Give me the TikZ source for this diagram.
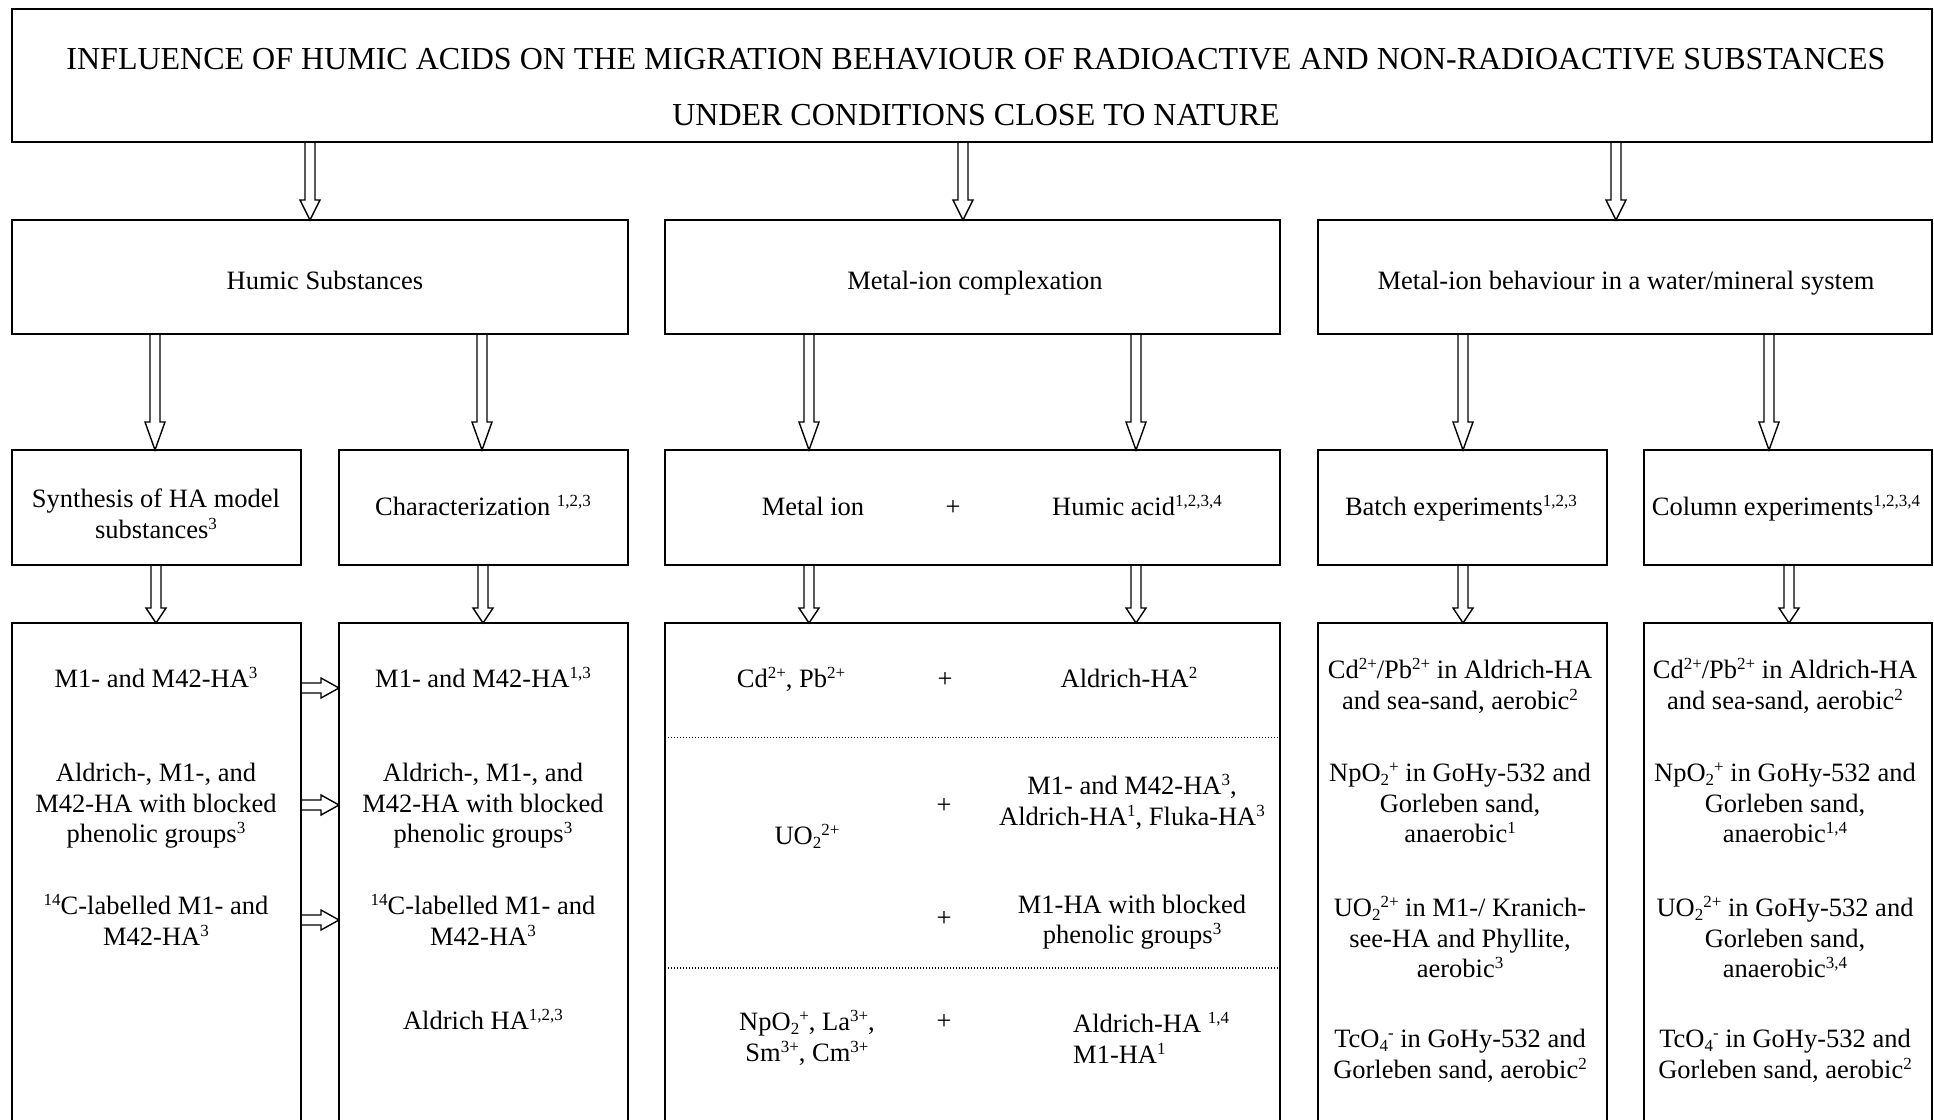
\documentclass[tikz,border=0pt]{standalone}
\usepackage{fontspec}
\setmainfont{Liberation Serif}
\usetikzlibrary{calc}
\newcommand\bfnt{\fontsize{26.5}{30.5}\selectfont}
\newcommand\tfnt{\fontsize{32}{56}\selectfont}
\newcommand\sps[1]{\raisebox{9pt}{\fontsize{17}{17}\selectfont #1}}
\newcommand\sbs[1]{\raisebox{-4pt}{\fontsize{17}{17}\selectfont #1}}
\newcommand\fatdn[3]{\draw[arrline] let \p1=(#1), \p2=(#2) in
  (\x1-5pt,\y1) -- (\x1-5pt,\y2+#3) -- (\x1-10pt,\y2+#3) -- (\x1,\y2)
  -- (\x1+10pt,\y2+#3) -- (\x1+5pt,\y2+#3) -- (\x1+5pt,\y1);}
\newcommand\fatrt[3]{\draw[arrline] let \p1=(#1), \p2=(#2) in
  (\x1,\y1+5pt) -- (\x2-#3,\y1+5pt) -- (\x2-#3,\y1+10pt) -- (\x2,\y1)
  -- (\x2-#3,\y1-10pt) -- (\x2-#3,\y1-5pt) -- (\x1,\y1-5pt);}
\begin{document}
\begin{tikzpicture}[x=1pt,y=-1pt,
  box/.style={draw,line width=1.8pt,inner sep=0pt,outer sep=0pt,anchor=north west},
  txt/.style={inner sep=0pt,align=center,font=\bfnt},
  one/.style={txt,anchor=base},
  arrline/.style={line width=1.4pt,line join=miter},
  sep/.style={line width=1.2pt,dash pattern=on 1.2pt off 1.8pt}]
\useasboundingbox (0,0) rectangle (1934,1119);
\clip (0,0) rectangle (1934,1119);

% boxes
\node[box,minimum width=1920,minimum height=133] (title) at (12,9) {};
\node[box,minimum width=616,minimum height=114] (hs) at (12,220) {};
\node[box,minimum width=615,minimum height=114] (mc) at (665,220) {};
\node[box,minimum width=614,minimum height=114] (mb) at (1318,220) {};

\node[box,minimum width=289,minimum height=115] (syn) at (12,450) {};
\node[box,minimum width=289,minimum height=115] (chr) at (339,450) {};
\node[box,minimum width=615,minimum height=115] (mih) at (665,450) {};
\node[box,minimum width=289,minimum height=115] (bat) at (1318,450) {};
\node[box,minimum width=288,minimum height=115] (col) at (1644,450) {};

\node[box,minimum width=289,minimum height=530] (syn4) at (12,623) {};
\node[box,minimum width=289,minimum height=530] (chr4) at (339,623) {};
\node[box,minimum width=615,minimum height=530] (mid4) at (665,623) {};
\node[box,minimum width=289,minimum height=530] (bat4) at (1318,623) {};
\node[box,minimum width=288,minimum height=530] (col4) at (1644,623) {};

% arrow x positions
\coordinate (a1) at (310,0);
\coordinate (a2) at (963,0);
\coordinate (a3) at (1616,0);
\coordinate (b1) at (155,0);
\coordinate (b2) at (482,0);
\coordinate (b3) at (809,0);
\coordinate (b4) at (1136,0);
\coordinate (b5) at (1463,0);
\coordinate (b6) at (1769,0);
\coordinate (c1) at (156,0);
\coordinate (c2) at (483,0);
\coordinate (c6) at (1789,0);
\coordinate (h1) at (0,688);
\coordinate (h2) at (0,805);
\coordinate (h3) at (0,920);
\coordinate (d1) at (0,737.5);
\coordinate (d2) at (0,968);

\fatdn{title.south -| a1}{hs.north -| a1}{20pt}
\fatdn{title.south -| a2}{mc.north -| a2}{20pt}
\fatdn{title.south -| a3}{mb.north -| a3}{20pt}

\fatdn{hs.south -| b1}{syn.north -| b1}{28pt}
\fatdn{hs.south -| b2}{chr.north -| b2}{28pt}
\fatdn{mc.south -| b3}{mih.north -| b3}{28pt}
\fatdn{mc.south -| b4}{mih.north -| b4}{28pt}
\fatdn{mb.south -| b5}{bat.north -| b5}{28pt}
\fatdn{mb.south -| b6}{col.north -| b6}{28pt}

\fatdn{syn.south -| c1}{syn4.north -| c1}{15pt}
\fatdn{chr.south -| c2}{chr4.north -| c2}{15pt}
\fatdn{mih.south -| b3}{mid4.north -| b3}{15pt}
\fatdn{mih.south -| b4}{mid4.north -| b4}{15pt}
\fatdn{bat.south -| b5}{bat4.north -| b5}{15pt}
\fatdn{col.south -| c6}{col4.north -| c6}{15pt}

\fatrt{syn4.east |- h1}{chr4.west |- h1}{18pt}
\fatrt{syn4.east |- h2}{chr4.west |- h2}{18pt}
\fatrt{syn4.east |- h3}{chr4.west |- h3}{18pt}

\draw[sep] (mid4.west |- d1) -- (mid4.east |- d1);
\draw[sep] (mid4.west |- d2) -- (mid4.east |- d2);

% texts
\node[txt,font=\tfnt] (ttl) at (976,87) {INFLUENCE OF HUMIC ACIDS ON THE MIGRATION BEHAVIOUR OF RADIOACTIVE AND NON-RADIOACTIVE SUBSTANCES\\UNDER CONDITIONS CLOSE TO NATURE};

\node[one] (ths) at (325,289) {Humic Substances};
\node[one] (tmc) at (975,289) {Metal-ion complexation};
\node[one] (tmb) at (1626,289) {Metal-ion behaviour in a water/mineral system};

\node[txt] (tsyn) at (156,514) {Synthesis of HA model\\substances\sps{3}};
\node[one] (tchr) at (483,515) {Characterization \sps{1,2,3}};
\node[one] (tmi) at (813,515) {Metal ion};
\node[one] (tpl) at (953,515) {+};
\node[one] (tha) at (1137,515) {Humic acid\sps{1,2,3,4}};
\node[one] (tbat) at (1461,515) {Batch experiments\sps{1,2,3}};
\node[one] (tcol) at (1786,515) {Column experiments\sps{1,2,3,4}};

% synthesis column
\node[one] (s1) at (156,687) {M1- and M42-HA\sps{3}};
\node[txt] (s2) at (156,806) {Aldrich-, M1-, and\\M42-HA with blocked\\phenolic groups\sps{3}};
\node[txt] (s3) at (156,920) {\sps{14}C-labelled M1- and\\M42-HA\sps{3}};

% characterization column
\node[one] (k1) at (483,687) {M1- and M42-HA\sps{1,3}};
\node[txt] (k2) at (483,806) {Aldrich-, M1-, and\\M42-HA with blocked\\phenolic groups\sps{3}};
\node[txt] (k3) at (483,920) {\sps{14}C-labelled M1- and\\M42-HA\sps{3}};
\node[one] (k4) at (483,1029) {Aldrich HA\sps{1,2,3}};

% middle column
\node[one] (m1) at (791,687) {Cd\sps{2+}, Pb\sps{2+}};
\node[one] (m1p) at (945,687) {+};
\node[one] (m1h) at (1129,687) {Aldrich-HA\sps{2}};
\node[txt] (m2h) at (1132,802) {M1- and M42-HA\sps{3},\\Aldrich-HA\sps{1}, Fluka-HA\sps{3}};
\node[one] (m2p) at (944,813) {+};
\node[one] (m2) at (807,844) {UO\sbs{2}\sps{2+}};
\node[txt] (m3h) at (1132,922) {M1-HA with blocked\\phenolic groups\sps{3}};
\node[one] (m3p) at (944,926) {+};
\node[txt] (m4) at (807,1038) {NpO\sbs{2}\sps{+}, La\sps{3+},\\Sm\sps{3+}, Cm\sps{3+}};
\node[one] (m4p) at (944,1029) {+};
\node[txt,anchor=west,align=left] (m4h) at (1073,1038) {Aldrich-HA \sps{1,4}\\M1-HA\sps{1}};

% batch column
\node[txt] (bt1) at (1460,686) {Cd\sps{2+}/Pb\sps{2+} in Aldrich-HA\\and sea-sand, aerobic\sps{2}};
\node[txt] (bt2) at (1460,803) {NpO\sbs{2}\sps{+} in GoHy-532 and\\Gorleben sand,\\anaerobic\sps{1}};
\node[txt] (bt3) at (1460,937) {UO\sbs{2}\sps{2+} in M1-/ Kranich-\\see-HA and Phyllite,\\aerobic\sps{3}};
\node[txt] (bt4) at (1460,1056) {TcO\sbs{4}\sps{-} in GoHy-532 and\\Gorleben sand, aerobic\sps{2}};

% column column
\node[txt] (cl1) at (1785,686) {Cd\sps{2+}/Pb\sps{2+} in Aldrich-HA\\and sea-sand, aerobic\sps{2}};
\node[txt] (cl2) at (1785,803) {NpO\sbs{2}\sps{+} in GoHy-532 and\\Gorleben sand,\\anaerobic\sps{1,4}};
\node[txt] (cl3) at (1785,937) {UO\sbs{2}\sps{2+} in GoHy-532 and\\Gorleben sand,\\anaerobic\sps{3,4}};
\node[txt] (cl4) at (1785,1056) {TcO\sbs{4}\sps{-} in GoHy-532 and\\Gorleben sand, aerobic\sps{2}};
\end{tikzpicture}
\end{document}
